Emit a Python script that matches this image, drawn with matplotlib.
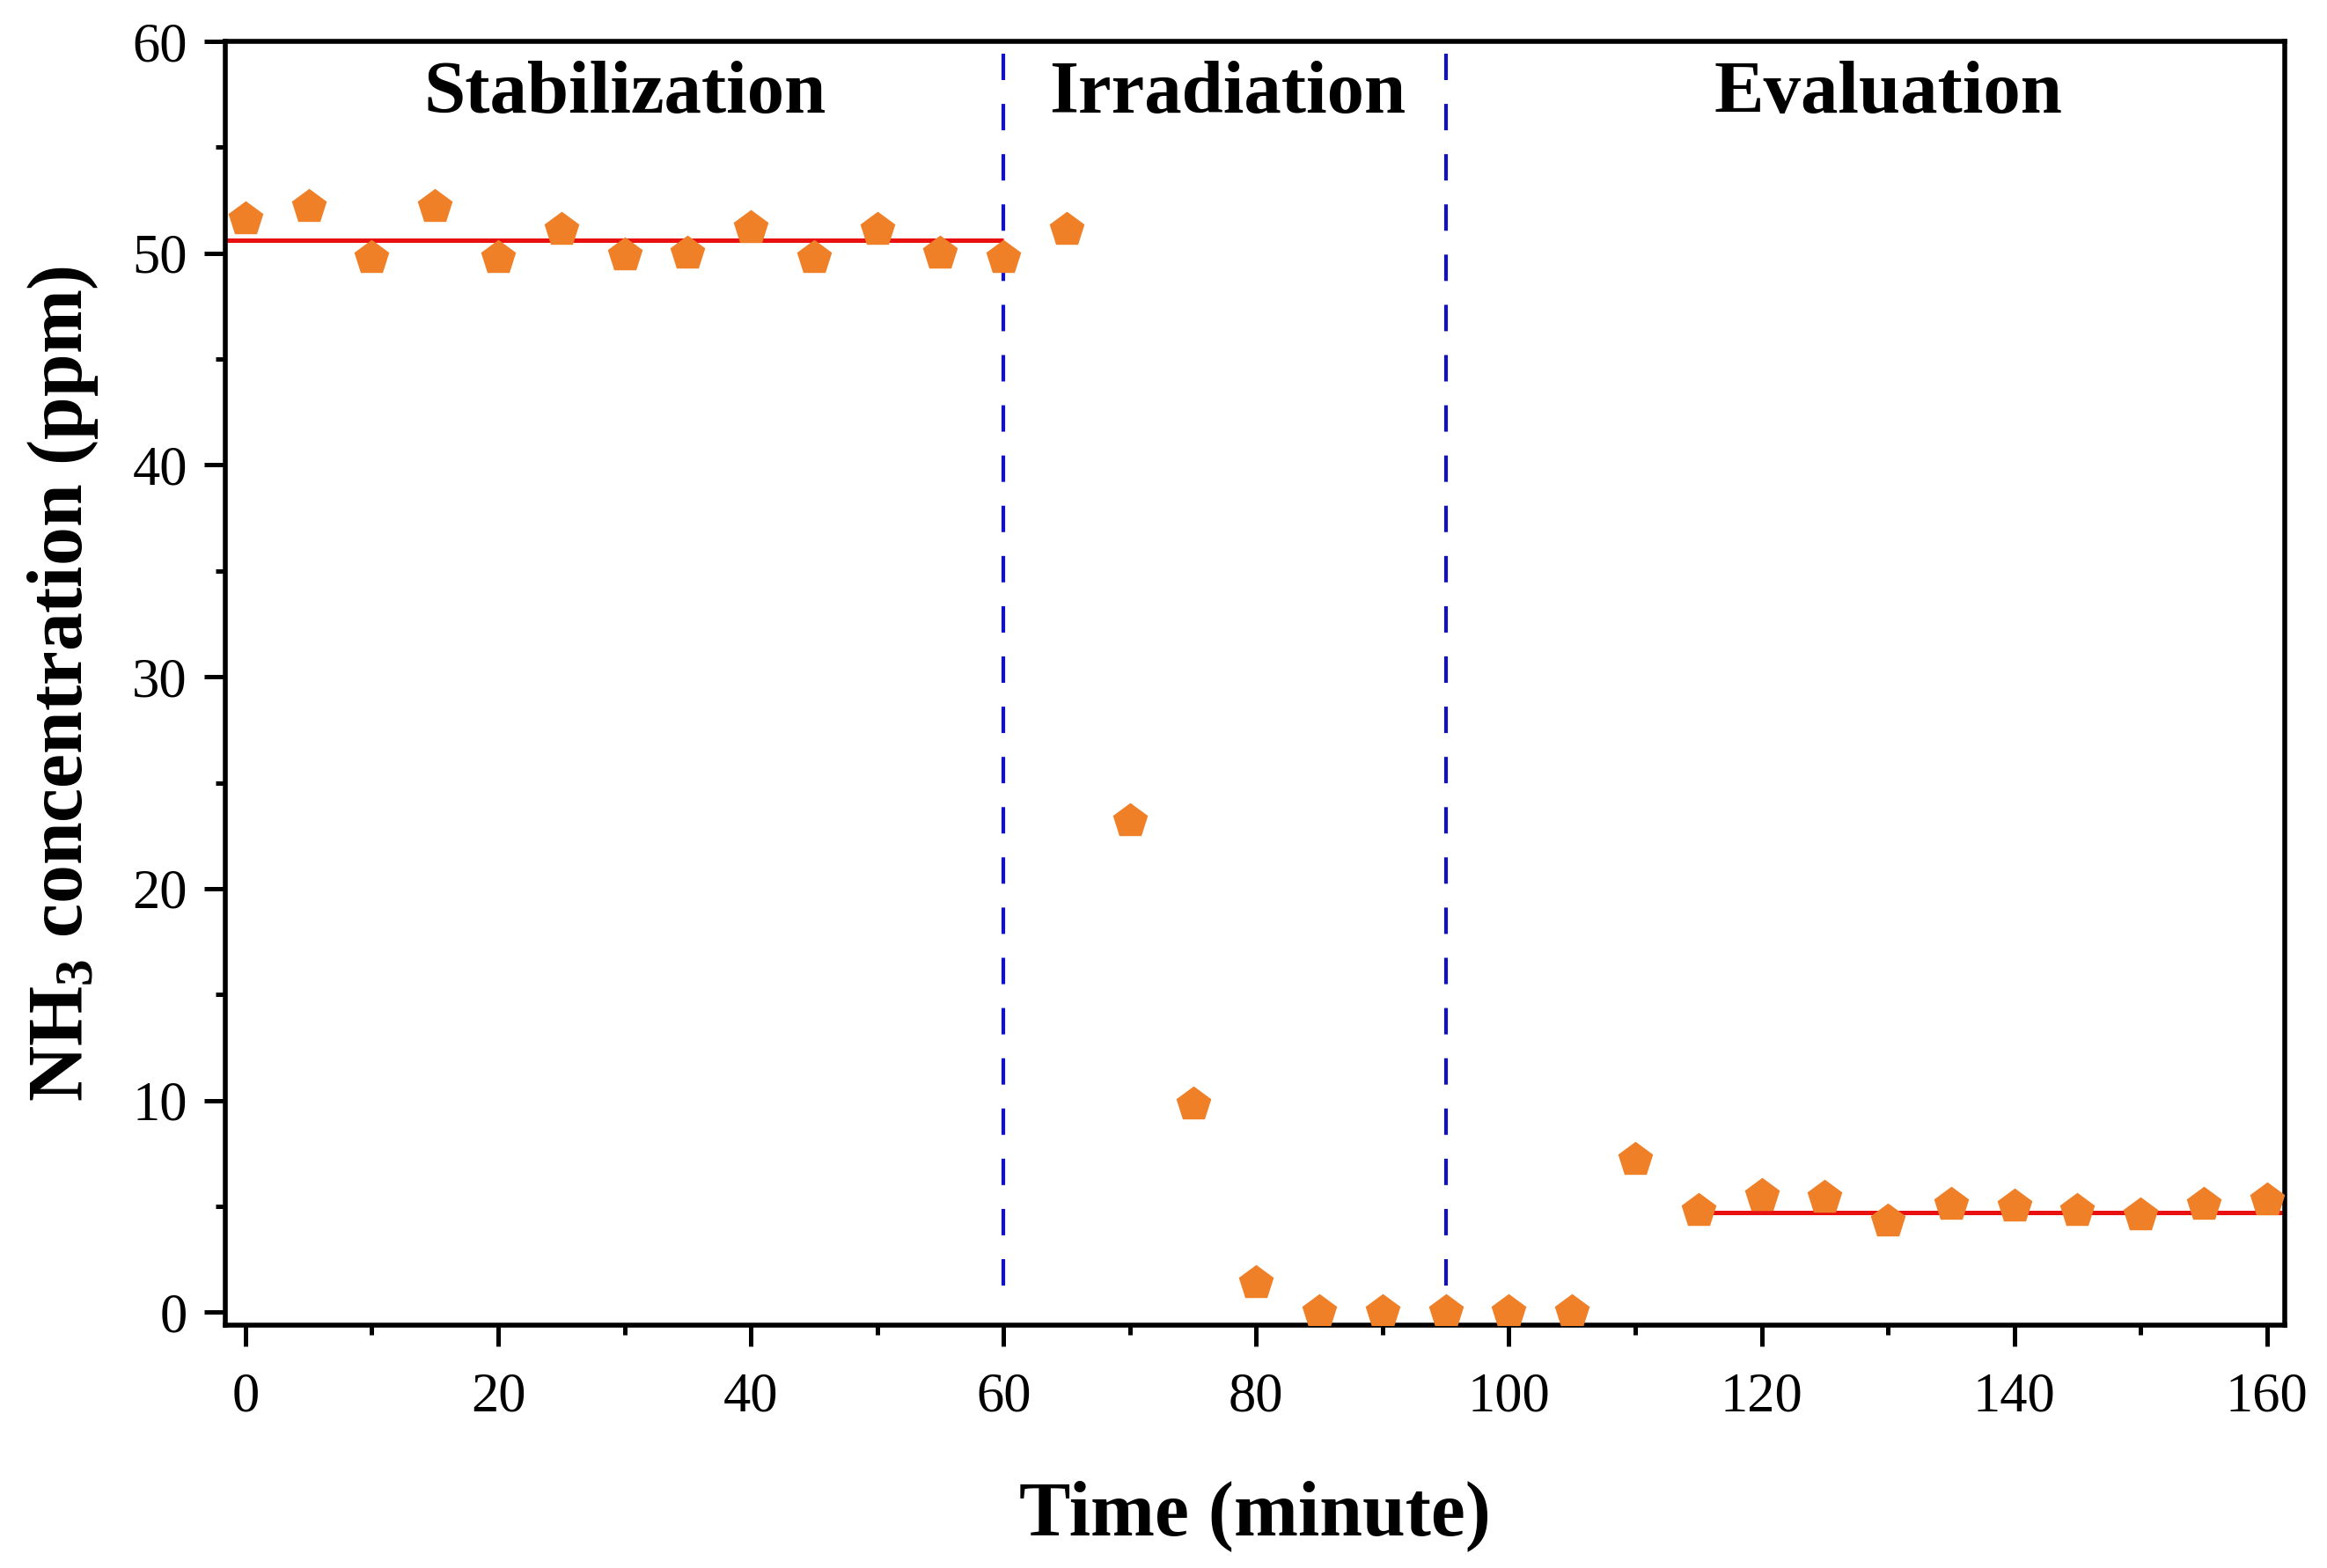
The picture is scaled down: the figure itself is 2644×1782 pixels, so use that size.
import numpy as np
import matplotlib
matplotlib.use('Agg')
import matplotlib.pyplot as plt
from matplotlib.ticker import MultipleLocator

# data
time_min = [0, 5, 10, 15, 20, 25, 30, 35, 40, 45, 50, 55, 60, 65, 70, 75, 80,
            85, 90, 95, 100, 105, 110, 115, 120, 125, 130, 135, 140, 145, 150, 155, 160]
nh3_ppm = [51.6, 52.2, 49.8, 52.2, 49.8, 51.1, 49.9, 50.0, 51.2, 49.8, 51.1, 50.0, 49.8,
           51.1, 23.2, 9.8, 1.4, 0.0, 0.0, 0.0, 0.0, 0.0, 7.2, 4.8, 5.5, 5.4, 4.3,
           5.1, 5.0, 4.8, 4.6, 5.1, 5.3]
phase_names = ['Stabilization', 'Irradiation', 'Evaluation']
phase_x = [30, 77.7, 130]
phase_bounds = [60, 95]
level_before = 50.6
level_after = 4.7

plt.rcParams['font.family'] = ['Liberation Serif', 'DejaVu Serif']
plt.rcParams['mathtext.fontset'] = 'custom'
plt.rcParams['mathtext.rm'] = 'Liberation Serif'
plt.rcParams['mathtext.bf'] = 'Liberation Serif:bold'

fig = plt.figure(figsize=(26.44, 17.82), dpi=100)
ax = fig.add_axes([0.0968, 0.155, 0.885, 0.8186])

xmin, xmax = -1.6, 161.4
ax.set_xlim(xmin, xmax)
ax.set_ylim(-0.6, 60)

# mean levels
ax.hlines(level_before, xmin, phase_bounds[0], color='#e81010', lw=3.6, zorder=2)
ax.hlines(level_after, 115, xmax, color='#e81010', lw=3.6, zorder=2)

# phase separators (drawn top-down so the dash pattern starts at the top)
for xb in phase_bounds:
    ax.plot([xb, xb], [59.4, 0.2], color='#1010c8', lw=3, ls=(0, (7.2, 6.5)), zorder=1)

ax.plot(time_min, nh3_ppm, ls='none', marker='p', ms=29, color='#ef8028',
        mec='#ef8028', zorder=3)

for name, xp in zip(phase_names, phase_x):
    ax.text(xp, 57.5, name, ha='center', va='center', fontsize=61, fontweight='bold')

ax.set_xlabel('Time (minute)', fontsize=63, fontweight='bold', labelpad=46)
ax.set_ylabel(r'$\mathbf{NH_3}$ concentration (ppm)', fontsize=63, fontweight='bold', labelpad=26)

ax.xaxis.set_major_locator(MultipleLocator(20))
ax.xaxis.set_minor_locator(MultipleLocator(10))
ax.yaxis.set_major_locator(MultipleLocator(10))
ax.yaxis.set_minor_locator(MultipleLocator(5))
ax.tick_params(which='major', direction='out', length=17, width=3.6, labelsize=45, pad=14)
ax.tick_params(which='minor', direction='out', length=8, width=3.6)
ax.tick_params(axis='x', which='major', pad=22)
ax.tick_params(top=False, right=False)

for sp in ax.spines.values():
    sp.set_linewidth(4)

fig.savefig('out.png', dpi=100)
